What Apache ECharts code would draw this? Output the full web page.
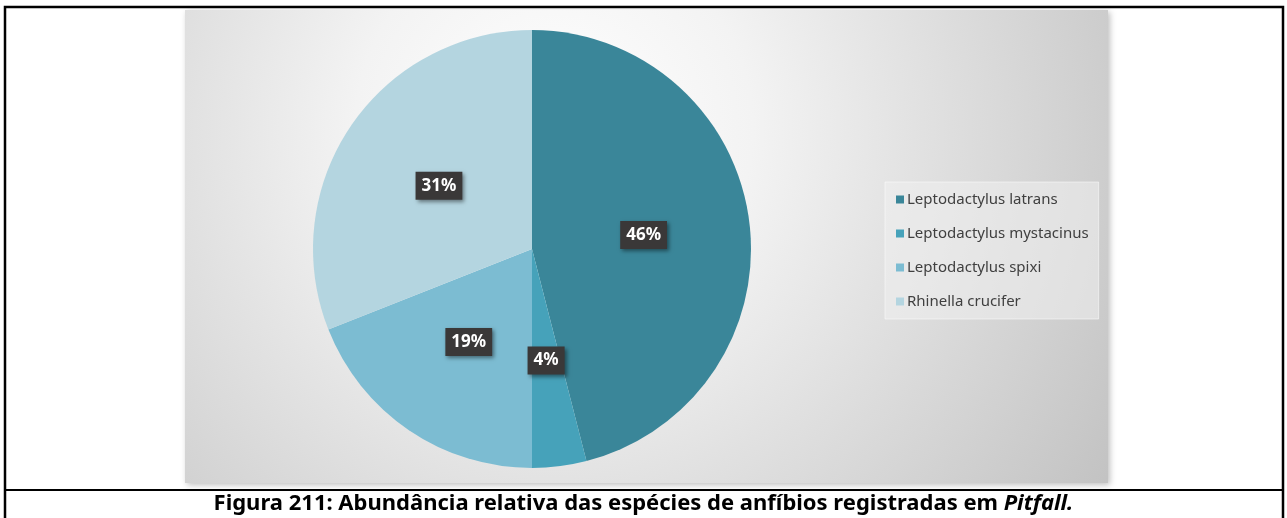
<!DOCTYPE html>
<html>
<head>
<meta charset="utf-8">
<script src="https://cdn.jsdelivr.net/npm/echarts@6/dist/echarts.min.js"></script>
<style>
  html, body { margin: 0; padding: 0; background: #ffffff; }
  #chart { width: 1287px; height: 518px; }
</style>
</head>
<body>
<div id="chart"></div>
<script>
// Species recorded in pitfall traps and their relative abundance (%)
const species = [
  'Leptodactylus latrans',
  'Leptodactylus mystacinus',
  'Leptodactylus spixi',
  'Rhinella crucifer'
];
const abundance = [46, 4, 19, 31];
const sliceColors = ['#3a8699', '#46a2ba', '#7cbcd2', '#b4d5e0'];

const captionMain = 'Figura 211: Abundância relativa das espécies de anfíbios registradas em ';
const captionItalic = 'Pitfall.';

const chart = echarts.init(document.getElementById('chart'), null, { renderer: 'canvas' });

const option = {
  animation: false,
  backgroundColor: '#ffffff',
  color: sliceColors,
  graphic: [
    // plot panel with soft radial shading
    {
      type: 'rect',
      z: -10,
      shape: { x: 185, y: 10, width: 923, height: 473 },
      style: {
        fill: new echarts.graphic.RadialGradient(0.4, 0.25, 1.4, [
          { offset: 0, color: '#ffffff' },
          { offset: 0.3, color: '#f3f3f3' },
          { offset: 1, color: '#c2c2c2' }
        ]),
        shadowBlur: 6,
        shadowColor: 'rgba(0,0,0,0.25)',
        shadowOffsetX: 2,
        shadowOffsetY: 2
      }
    },
    // outer frame of the figure
    {
      type: 'polyline',
      z: 50,
      shape: { points: [[5, 518], [5, 7], [1283, 7], [1283, 518]] },
      style: { stroke: '#000000', lineWidth: 2.5, fill: null }
    },
    {
      type: 'line',
      z: 50,
      shape: { x1: 5, y1: 490, x2: 1283, y2: 490 },
      style: { stroke: '#000000', lineWidth: 2 }
    },
    // caption
    {
      type: 'text',
      z: 50,
      left: 'center',
      top: 493,
      style: {
        text: '{m|' + captionMain + '}{i|' + captionItalic + '}',
        rich: {
          m: { fontFamily: 'Noto Sans', fontWeight: 'bold', fontSize: 22, fill: '#000000' },
          i: { fontFamily: 'Noto Sans', fontWeight: 'bold', fontStyle: 'italic', fontSize: 22, fill: '#000000' }
        }
      }
    }
  ],
  legend: {
    orient: 'vertical',
    left: 885,
    top: 182,
    padding: [10, 10, 10, 11],
    backgroundColor: 'rgba(240,240,240,0.55)',
    borderColor: 'rgba(255,255,255,0.5)',
    borderWidth: 1,
    itemWidth: 8,
    itemHeight: 8,
    itemGap: 19,
    icon: 'rect',
    data: species,
    textStyle: {
      fontFamily: 'Noto Sans',
      fontSize: 15,
      color: '#404040',
      padding: [0, 0, 0, -2]
    }
  },
  series: [
    {
      type: 'pie',
      center: [532, 249],
      radius: [0, 219],
      startAngle: 90,
      clockwise: true,
      avoidLabelOverlap: false,
      data: species.map((name, i) => ({ name: name, value: abundance[i] })),
      itemStyle: { borderWidth: 0 },
      emphasis: { disabled: true },
      label: {
        show: true,
        position: 'inside',
        formatter: '{c}%',
        fontFamily: 'Noto Sans',
        fontWeight: 'bold',
        fontSize: 17,
        color: '#ffffff',
        backgroundColor: '#3a3838',
        padding: [6, 6, 5, 6],
        shadowBlur: 4,
        shadowColor: 'rgba(0,0,0,0.45)',
        shadowOffsetX: 2,
        shadowOffsetY: 2
      },
      labelLine: { show: false }
    }
  ]
};

chart.setOption(option);
</script>
</body>
</html>
